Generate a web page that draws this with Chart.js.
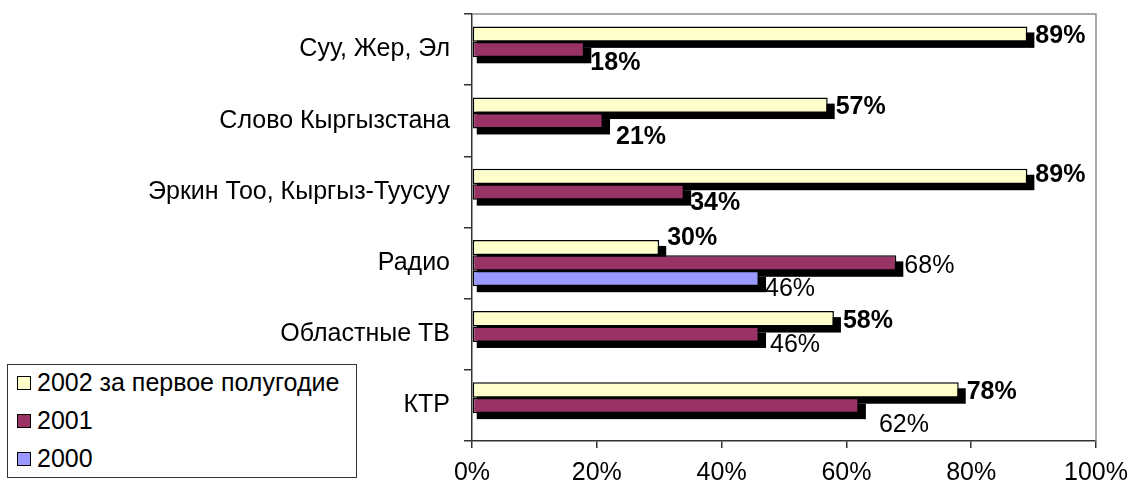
<!DOCTYPE html>
<html>
<head>
<meta charset="utf-8">
<title>Media chart</title>
<script src="https://cdn.jsdelivr.net/npm/chart.js@4/dist/chart.umd.min.js"></script>
<style>
    body { margin: 0; background: #fff; font-family: "Liberation Sans", Arial, sans-serif; }
    #wrap { position: relative; width: 1132px; height: 490px; }
    #legend {
        position: absolute; left: 7px; top: 364px; width: 348px; height: 112px;
        border: 1px solid #333; background: #fff; box-sizing: content-box;
    }
    .legend-item { position: absolute; left: 9px; height: 30px; line-height: 30px; font-size: 25px; color: #000; white-space: nowrap; }
    .legend-box { display: inline-block; width: 12px; height: 12px; border: 1.5px solid #000; margin-right: 6px; vertical-align: 1px; }
</style>
</head>
<body>
<div id="wrap">
    <canvas id="chart"></canvas>
    <div id="legend"></div>
</div>
<script>
const categories = ["Суу, Жер, Эл", "Слово Кыргызстана", "Эркин Тоо, Кыргыз-Туусуу", "Радио", "Областные ТВ", "КТР"];
const seriesNames = ["2002 за первое полугодие", "2001", "2000"];
const values2002 = [89, 57, 89, 30, 58, 78];
const values2001 = [18, 21, 34, 68, 46, 62];
const values2000 = [null, null, null, 46, null, null];
const xTicks = [0, 20, 40, 60, 80, 100];

// label look, kept apart from the values
const bold2002 = [true, true, true, true, true, true];
const bold2001 = [true, true, true, false, false, false];
const bold2000 = [false, false, false, false, false, false];
const shift2002 = [[0, 1], [0, 1], [0, -2], [0, -11], [1, 1], [0, 1]];
const shift2001 = [[-2, 13], [5, 15], [-2, 10], [0, 2], [3, 10], [12, 19]];
const shift2000 = [[0, 0], [0, 0], [0, 0], [-2, 10], [0, 0], [0, 0]];

const COLORS = ["#FFFFCC", "#993366", "#9999FF"];
const FONT = "'Liberation Sans', Arial, sans-serif";

function makeSet(i, values, bold, shift) {
    return {
        label: seriesNames[i],
        data: values,
        backgroundColor: COLORS[i],
        borderColor: "#000",
        borderWidth: 1.5,
        borderSkipped: false,
        categoryPercentage: 0.65,
        barPercentage: 1,
        bold: bold,
        shift: shift,
    };
}

// Excel style drop shadow: all shadows first, bars go on top
const shadowPlugin = {
    id: "barShadow",
    beforeDatasetsDraw(chart) {
        const ctx = chart.ctx;
        ctx.save();
        ctx.fillStyle = "#000";
        chart.data.datasets.forEach((ds, i) => {
            chart.getDatasetMeta(i).data.forEach((bar, j) => {
                if (ds.data[j] == null) return;
                const p = bar.getProps(["x", "y", "base", "height"], true);
                const top = p.y - p.height / 2;
                ctx.fillRect(p.base + 4, top + 6, p.x - p.base + 3, p.height);
            });
        });
        ctx.restore();
    },
};

const valueLabels = {
    id: "valueLabels",
    afterDatasetsDraw(chart) {
        const ctx = chart.ctx;
        ctx.save();
        ctx.fillStyle = "#000";
        ctx.textAlign = "left";
        ctx.textBaseline = "middle";
        chart.data.datasets.forEach((ds, i) => {
            chart.getDatasetMeta(i).data.forEach((bar, j) => {
                const v = ds.data[j];
                if (v == null) return;
                const p = bar.getProps(["x", "y"], true);
                ctx.font = `${ds.bold[j] ? "bold " : ""}25px ${FONT}`;
                ctx.fillText(`${v}%`, p.x + 8 + ds.shift[j][0], p.y + 1 + ds.shift[j][1]);
            });
        });
        ctx.restore();
    },
};

const plotFrame = {
    id: "plotFrame",
    beforeDatasetsDraw(chart) {
        const a = chart.chartArea;
        const ctx = chart.ctx;
        ctx.save();
        ctx.strokeStyle = "#8c8c8c";
        ctx.lineWidth = 1.5;
        ctx.beginPath();
        ctx.moveTo(a.left, a.top);
        ctx.lineTo(a.right, a.top);
        ctx.lineTo(a.right, a.bottom);
        ctx.stroke();
        ctx.restore();
    },
};

function renderLegend(chart) {
    const box = document.getElementById("legend");
    box.innerHTML = chart.data.datasets
        .map((ds, i) => `<div class="legend-item" style="top:${2 + i * 38}px"><span class="legend-box" style="background:${ds.backgroundColor}"></span>${ds.label}</div>`)
        .join("");
}

const chart = new Chart(document.getElementById("chart"), {
    type: "bar",
    data: {
        labels: categories,
        datasets: [
            makeSet(0, values2002, bold2002, shift2002),
            makeSet(1, values2001, bold2001, shift2001),
            makeSet(2, values2000, bold2000, shift2000),
        ],
    },
    options: {
        indexAxis: "y",
        responsive: true,
        maintainAspectRatio: false,
        animation: false,
        events: [],
        layout: { padding: { top: 14, right: 36, bottom: 0, left: 0 } },
        plugins: { legend: { display: false }, tooltip: { enabled: false } },
        scales: {
            x: {
                min: 0,
                max: 100,
                afterBuildTicks: (s) => { s.ticks = xTicks.map((v) => ({ value: v })); },
                afterFit: (s) => { s.height = 49; s.paddingLeft = 0; s.paddingRight = 0; },
                ticks: {
                    color: "#000",
                    padding: 10,
                    maxRotation: 0,
                    font: { family: FONT, size: 25 },
                    callback: (v) => `${v}%`,
                },
                grid: { drawOnChartArea: false, drawTicks: true, tickLength: 7, color: "#333", lineWidth: 1.5 },
                border: { display: true, color: "#333", width: 1.5 },
            },
            y: {
                afterFit: (s) => { s.width = 472; s.paddingTop = 0; s.paddingBottom = 0; },
                ticks: { color: "#000", padding: 14, font: { family: FONT, size: 25 } },
                grid: { drawOnChartArea: false, drawTicks: true, tickLength: 8, offset: true, color: "#333", lineWidth: 1.5 },
                border: { display: true, color: "#333", width: 1.5 },
            },
        },
    },
    plugins: [plotFrame, shadowPlugin, valueLabels],
});

renderLegend(chart);
</script>
</body>
</html>
